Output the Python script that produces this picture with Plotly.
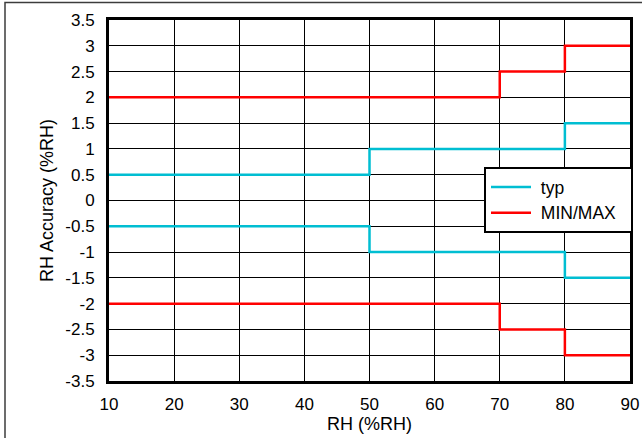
import plotly.graph_objects as go

rh = [10, 50, 70, 80, 90]
typ_upper = [0.5, 1.0, 1.0, 1.5, 1.5]
typ_lower = [-0.5, -1.0, -1.0, -1.5, -1.5]
max_upper = [2.0, 2.0, 2.5, 3.0, 3.0]
min_lower = [-2.0, -2.0, -2.5, -3.0, -3.0]
x_ticks = [10, 20, 30, 40, 50, 60, 70, 80, 90]
y_ticks = [3.5, 3, 2.5, 2, 1.5, 1, 0.5, 0, -0.5, -1, -1.5, -2, -2.5, -3, -3.5]
y_tick_labels = ["3.5", "3", "2.5", "2", "1.5", "1", "0.5", "0", "-0.5", "-1", "-1.5", "-2", "-2.5", "-3", "-3.5"]

CYAN = "rgb(0,190,210)"
RED = "rgb(255,0,0)"
FONT = "Liberation Sans, Arial, sans-serif"

fig = go.Figure()
fig.add_trace(go.Scatter(x=rh, y=typ_upper, mode="lines", line=dict(color=CYAN, width=2.5, shape="hv"),
                         name="\u00a0typ", legendgroup="typ", showlegend=True))
fig.add_trace(go.Scatter(x=rh, y=typ_lower, mode="lines", line=dict(color=CYAN, width=2.5, shape="hv"),
                         name="\u00a0typ", legendgroup="typ", showlegend=False))
fig.add_trace(go.Scatter(x=rh, y=max_upper, mode="lines", line=dict(color=RED, width=2.5, shape="hv"),
                         name="\u00a0MIN/MAX\u00a0\u00a0", legendgroup="mm", showlegend=True))
fig.add_trace(go.Scatter(x=rh, y=min_lower, mode="lines", line=dict(color=RED, width=2.5, shape="hv"),
                         name="\u00a0MIN/MAX\u00a0\u00a0", legendgroup="mm", showlegend=False))

L, R, T, B = 109, 12, 20, 57
W, H = 642, 438
pw = W - L - R
ph = H - T - B

fig.update_layout(
    width=W, height=H,
    margin=dict(l=L, r=R, t=T, b=B, autoexpand=False),
    paper_bgcolor="white", plot_bgcolor="white",
    font=dict(family=FONT, size=17, color="black"),
    showlegend=True,
    legend=dict(x=(484 - L) / pw, y=(H - B - 167) / ph, xanchor="left", yanchor="top",
                bordercolor="black", borderwidth=2, bgcolor="white", itemwidth=40,
                font=dict(family=FONT, size=17.5), tracegroupgap=0),
    xaxis=dict(range=[10, 90], tickvals=x_ticks, showgrid=True, gridcolor="black", gridwidth=1,
               showline=True, linecolor="black", linewidth=3, mirror=True, zeroline=False,
               ticks="", ticklabelstandoff=6, automargin=False,
               title=dict(text="RH (%RH)", standoff=4, font=dict(size=18))),
    yaxis=dict(range=[-3.5, 3.5], tickvals=y_ticks, ticktext=y_tick_labels, showgrid=True,
               gridcolor="black", gridwidth=1, showline=True, linecolor="black", linewidth=3,
               mirror=True, zeroline=False, ticks="", ticklabelstandoff=8, automargin=False,
               title=dict(text="RH Accuracy (%RH)", standoff=8, font=dict(size=18))),
)

# outer frame of the figure (partially cropped at right/bottom)
fig.add_shape(type="rect", xref="paper", yref="paper",
              x0=(5 - L) / pw, x1=(W + 20 - L) / pw,
              y0=(H - B - (H + 20)) / ph, y1=(H - B - 2.5) / ph,
              line=dict(color="rgb(60,60,60)", width=1.5), layer="above")

fig.write_html("out.html", config={"displayModeBar": False},
               post_script="document.body.style.margin='0';document.body.style.padding='0';")
